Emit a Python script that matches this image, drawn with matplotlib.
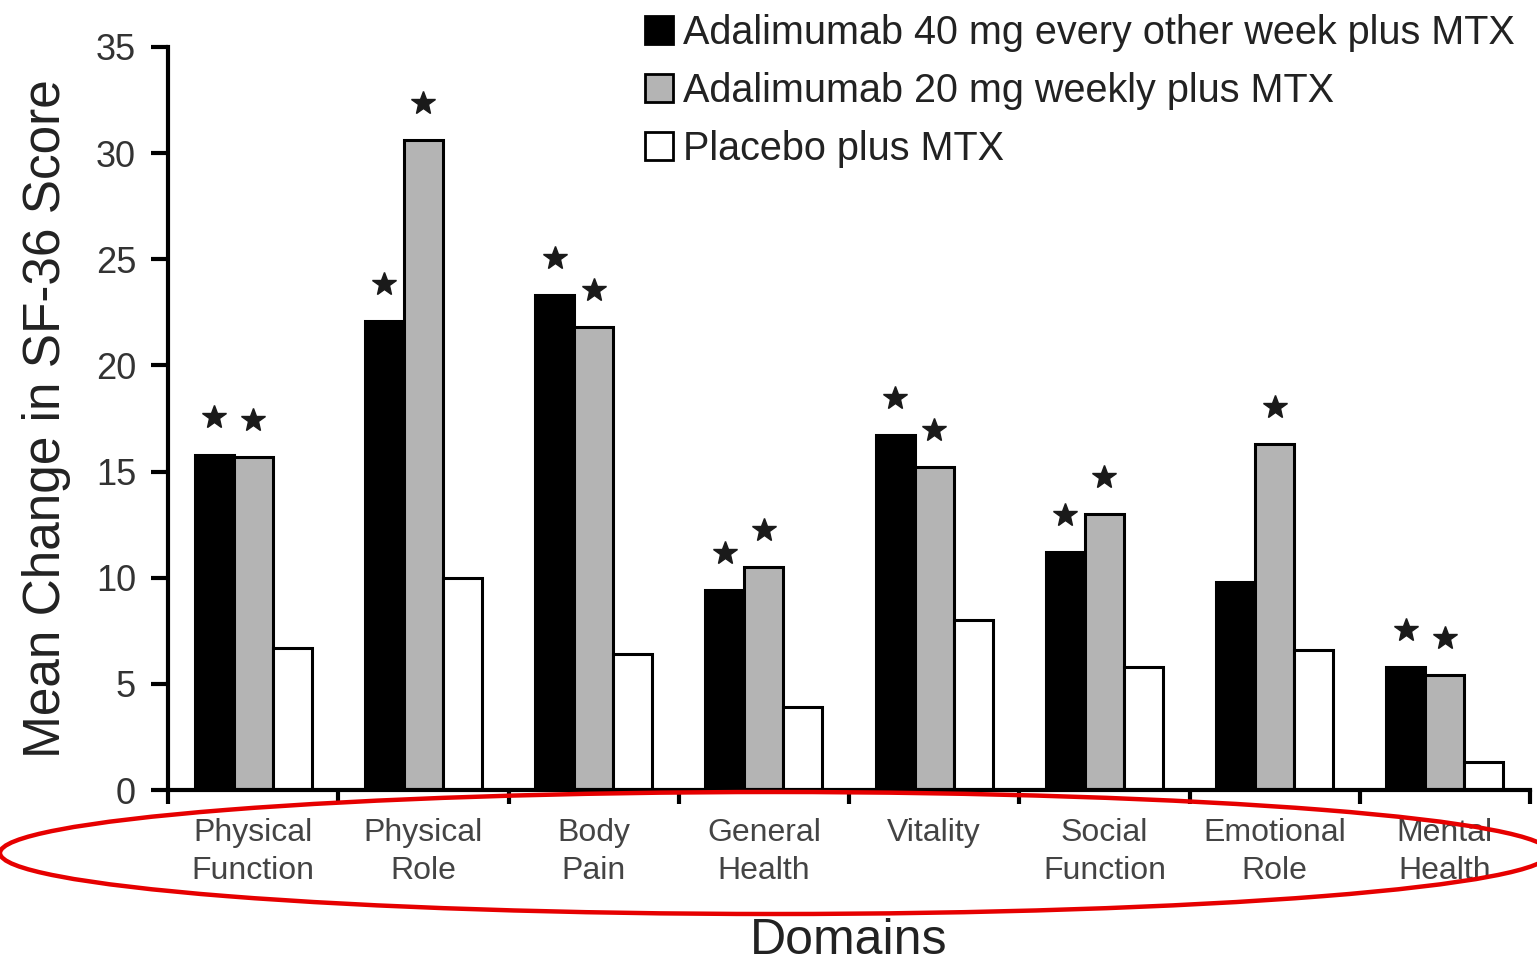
import numpy as np
import matplotlib.pyplot as plt
from matplotlib.patches import Ellipse, Patch

plt.rcParams['font.family'] = ['Liberation Sans', 'DejaVu Sans']

# Данные
domains = ['Physical\nFunction', 'Physical\nRole', 'Body\nPain', 'General\nHealth',
           'Vitality', 'Social\nFunction', 'Emotional\nRole', 'Mental\nHealth']
ada40 = [15.8, 22.1, 23.3, 9.4, 16.7, 11.2, 9.8, 5.8]
ada20 = [15.7, 30.6, 21.8, 10.5, 15.2, 13.0, 16.3, 5.4]
placebo = [6.7, 10.0, 6.4, 3.9, 8.0, 5.8, 6.6, 1.3]
star40 = [True, True, True, True, True, True, False, True]
star20 = [True, True, True, True, True, True, True, True]
labels = ['Adalimumab 40 mg every other week plus MTX',
          'Adalimumab 20 mg weekly plus MTX',
          'Placebo plus MTX']

fig = plt.figure(figsize=(15.37, 9.66), dpi=100)
ax = fig.add_axes([168 / 1537, 1 - 790 / 966, 1362 / 1537, 743 / 966])

x = np.arange(len(domains))
w = 0.229
ax.bar(x - w, ada40, w, color='black', edgecolor='black', linewidth=2.2)
ax.bar(x, ada20, w, color='#b4b4b4', edgecolor='black', linewidth=2.2)
ax.bar(x + w, placebo, w, color='white', edgecolor='black', linewidth=2.2)

# Звездочки (значимость)
for xi, v, s in zip(x - w, ada40, star40):
    if s:
        ax.plot(xi, v + 1.75, marker='*', ms=18, color='#1a1a1a', clip_on=False)
for xi, v, s in zip(x, ada20, star20):
    if s:
        ax.plot(xi, v + 1.75, marker='*', ms=18, color='#1a1a1a', clip_on=False)

ax.set_xlim(-0.5, 7.5)
ax.set_ylim(0, 35)
ax.set_yticks(np.arange(0, 36, 5))
ax.set_xticks(x)
ax.set_xticklabels(domains, fontsize=23, color='#444444', linespacing=1.35)
ax.set_xticks(np.arange(-0.5, 8, 1), minor=True)
ax.tick_params(axis='x', which='major', length=0, pad=20)
ax.tick_params(axis='x', which='minor', length=10, width=3, direction='out')
ax.tick_params(axis='y', length=12, width=3, direction='out', pad=11,
               labelsize=26, labelcolor='#333333')

for side in ['top', 'right']:
    ax.spines[side].set_visible(False)
for side in ['left', 'bottom']:
    ax.spines[side].set_linewidth(3)

ax.set_ylabel('Mean Change in SF-36 Score', fontsize=37, color='#222222')
ax.yaxis.set_label_coords(-0.071, 0.5)
ax.set_xlabel('Domains', fontsize=36, color='#222222')
ax.xaxis.set_label_coords(0.5, -0.172)

handles = [Patch(facecolor='black', edgecolor='black', linewidth=2),
           Patch(facecolor='#b4b4b4', edgecolor='black', linewidth=2),
           Patch(facecolor='white', edgecolor='black', linewidth=2)]
leg = fig.legend(handles, labels, loc='upper left',
                 bbox_to_anchor=(645 / 1537, 1 - 14 / 966), frameon=False,
                 fontsize=28.5, handlelength=0.7, handleheight=0.7,
                 handletextpad=0.25, labelspacing=0.5, borderpad=0,
                 borderaxespad=0)
for t in leg.get_texts():
    t.set_color('#222222')

# Красный овал вокруг подписей
fig.patches.append(Ellipse((775 / 1537, 1 - 853 / 966), 1550 / 1537, 122 / 966,
                           transform=fig.transFigure, fill=False,
                           edgecolor='#e60000', linewidth=3.2))

plt.savefig('out.png', dpi=100)
